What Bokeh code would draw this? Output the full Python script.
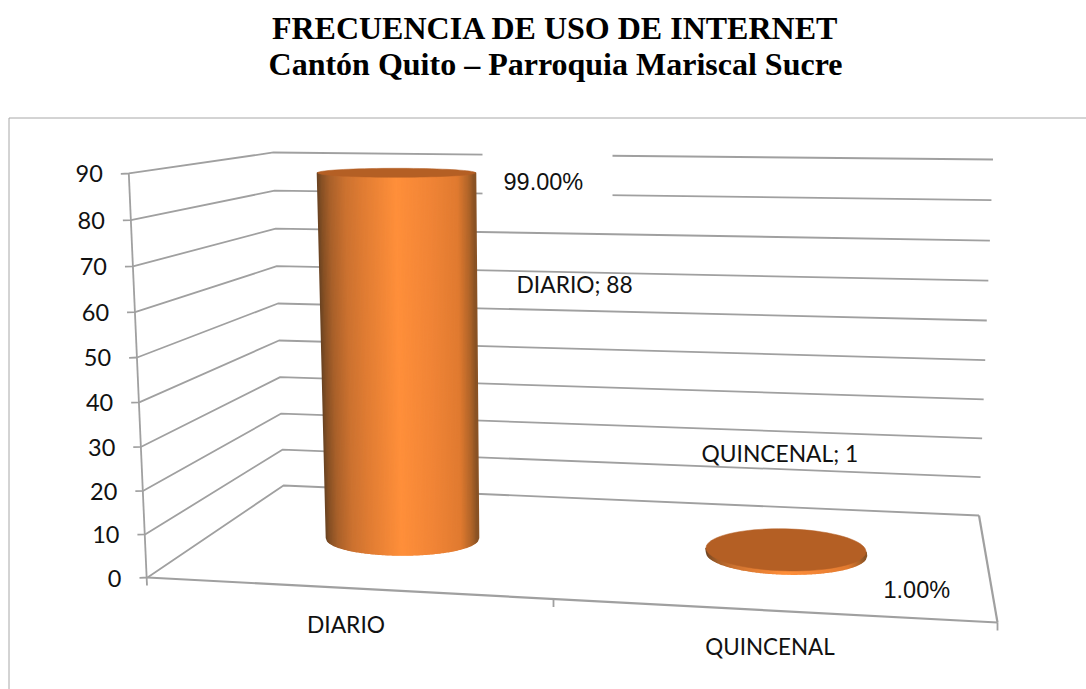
import numpy as np
from bokeh.plotting import figure
from bokeh.core.properties import value
from bokeh.embed import file_html
from bokeh.resources import INLINE

categories = ["DIARIO", "QUINCENAL"]
values = [88, 1]
pct_labels = ["99.00%", "1.00%"]
y_ticks = [0, 10, 20, 30, 40, 50, 60, 70, 80, 90]

title_lines = ["FRECUENCIA DE USO DE INTERNET", "Cantón Quito – Parroquia Mariscal Sucre"]

GRID = "#a0a0a0"
TOP = "#b45f24"
stops_t = [0, .03, .08, .18, .29, .5, .72, .89, .96, 1]
stops_rgb = np.array([[104, 66, 34], [135, 80, 36], [168, 96, 42], [204, 114, 48], [224, 124, 51],
                      [255, 143, 58], [240, 132, 54], [224, 122, 48], [176, 100, 40], [132, 80, 36]], float)


def shade(t):
    return "#%02x%02x%02x" % tuple(int(round(np.interp(t, stops_t, stops_rgb[:, i]))) for i in range(3))


# perspective projection of the 3-D frame on to the page (page pixels)
def front(v):
    return 147 - 18.7 * v / 90, 577 - 4.294 * v / (1 - 0.000483 * v)


def back_left(v):
    return 283 - 10 * v / 90, 485 - 3.568 * v / (1 - 0.000397 * v)


def back_right(v):
    return 978.5 + 14 * v / 90, 515 - 3.833 * v / (1 - 0.000345 * v)


def ell(cx, cy, rx, ry, tilt=0.0, a0=0.0, a1=2 * np.pi, n=80):
    a = np.linspace(a0, a1, n)
    x = rx * np.cos(a)
    y = ry * np.sin(a)
    c, s = np.cos(tilt), np.sin(tilt)
    return cx + x * c - y * s, cy + x * s + y * c


p = figure(width=1086, height=689, x_range=(0, 1086), y_range=(689, 0),
           output_backend="svg", toolbar_location=None, min_border=0,
           outline_line_color=None, background_fill_color="white")
p.xaxis.visible = False
p.yaxis.visible = False
p.grid.visible = False

# chart frame
p.line([8.5, 8.5], [689, 117.5], line_color="#a8a8a8", line_width=1)
p.line([8.5, 1086], [117.5, 117.5], line_color="#a8a8a8", line_width=1)

# walls
for v in y_ticks:
    fx, fy = front(v)
    bx, by = back_left(v)
    rx, ry = back_right(v)
    p.line([fx - 8, fx, bx, rx], [fy + 0.3, fy, by, ry], line_color=GRID, line_width=1.8)

# floor and axes
p.line([147, 997], [577, 622], line_color=GRID, line_width=2.2)
p.line([978.5, 997], [515, 622], line_color=GRID, line_width=2.2)
fx0, fy0 = front(0)
fx9, fy9 = front(90)
p.line([fx0 - 0.5, fx9], [fy0 + 8, fy9], line_color=GRID, line_width=1.8)
for fx, fy in [(553, 598.5), (997, 622)]:
    p.line([fx, fx], [fy, fy + 8], line_color=GRID, line_width=1.8)

# white backgrounds of the percentage labels
p.quad(left=[482, 861], right=[612, 960], top=[150, 570], bottom=[208, 613.5],
       fill_color="white", line_color=None)

# cylinders
KY = 4.15
base = [(402, 537.5, 76, 17, 0.0), (786, 553.5, 80, 20, 0.025)]
top = [(396, 4.5, 79), (785.5, 21, 80)]
for val, (bcx, bcy, brx, bry, tilt), (tcx, tr, trx) in zip(values, base, top):
    tcy = bcy - val * KY
    xs, ys, cols = [], [], []
    N = 120
    for i in range(N):
        t0, t1 = i / N, (i + 1) / N
        a0, a1 = np.arccos(2 * t0 - 1), np.arccos(2 * t1 - 1)
        bx0, by0 = ell(bcx, bcy, brx, bry, tilt, a1, a1, 1)
        bx1, by1 = ell(bcx, bcy, brx, bry, tilt, a0, a0, 1)
        tx0, ty0 = ell(tcx, tcy, trx, tr, tilt, a1, a1, 1)
        tx1, ty1 = ell(tcx, tcy, trx, tr, tilt, a0, a0, 1)
        xs.append([tx0[0], tx1[0], bx1[0], bx0[0]])
        ys.append([ty0[0], ty1[0], by1[0], by0[0]])
        cols.append(shade((i + .5) / N))
    p.patches(xs, ys, fill_color=cols, line_color=cols, line_width=1.6)
    ex, ey = ell(tcx, tcy, trx, tr, tilt)
    p.patch(ex, ey, fill_color=TOP, line_color=TOP, line_width=0.5)


def label(x, y, s, size, font="Lato", align="left", style="normal", color="#111111"):
    p.text([x], [y], text=[s], text_font=value(font), text_font_size=f"{size}px",
           text_align=align, text_baseline="middle", text_font_style=style, text_color=color)


label(555, 27, title_lines[0], 32, "Liberation Serif", "center", "bold", "black")
label(555, 63, title_lines[1], 32, "Liberation Serif", "center", "bold", "black")

for v in y_ticks:
    fx, fy = front(v)
    label(fx - 26, fy + 0.5, str(v), 23.5, align="right")

label(345.5, 623, categories[0], 22.8, align="center")
label(769.5, 646, categories[1], 22.4, align="center")
label(516, 283, f"{categories[0]}; {values[0]}", 22.8)
label(701, 452, f"{categories[1]}; {values[1]}", 22.8)
label(503, 181, pct_labels[0], 23.5, "Liberation Sans")
label(883, 589, pct_labels[1], 23.5, "Liberation Sans")

open("out.html", "w").write(file_html(p, INLINE))
